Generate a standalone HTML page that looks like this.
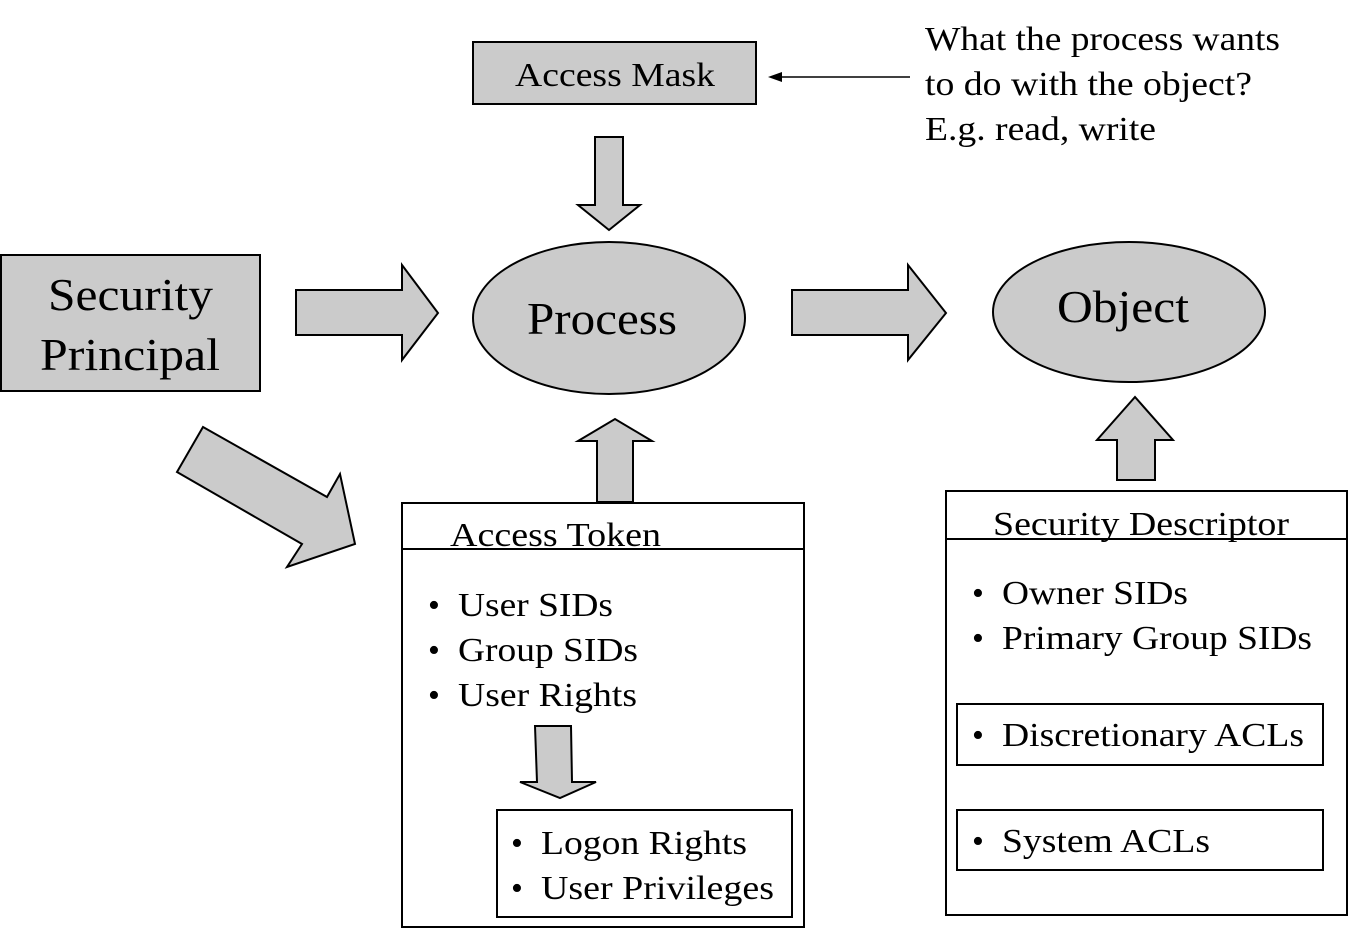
<!DOCTYPE html>
<html><head><meta charset="utf-8"><style>body{margin:0;background:#fff}svg{display:block}text{font-family:"Liberation Serif",serif;fill:#000}</style></head><body>
<svg width="1350" height="931" viewBox="0 0 1350 931" xmlns="http://www.w3.org/2000/svg">
<g stroke="#000" stroke-width="2" fill="#cbcbcb">
<rect x="1" y="255" width="259" height="136"/>
<rect x="473" y="42" width="283" height="62"/>
<ellipse cx="609" cy="318" rx="136" ry="76"/>
<ellipse cx="1129" cy="312" rx="136" ry="70"/>
<polygon points="203,427 327,497 340,474 355,544 287,567 302,544 177,472"/>
<polygon points="597,502 597,441 578,441 615,419 652,441 633,441 633,502"/>
<polygon points="595,137 623,137 623,205 640,205 609,230 578,205 595,205"/>
<polygon points="296,290 402,290 402,265 438,313 402,360 402,335 296,335"/>
<polygon points="792,290 908,290 908,265 946,313 908,360 908,335 792,335"/>
<polygon points="1117,480 1117,440 1097,440 1135,397 1173,440 1155,440 1155,480"/>
</g>
<g stroke="#000" stroke-width="2" fill="#fff">
<rect x="402" y="503" width="402" height="424"/>
<line x1="402" y1="549" x2="804" y2="549"/>
<rect x="497" y="810" width="295" height="107"/>
<rect x="946" y="491" width="401" height="424"/>
<line x1="946" y1="539" x2="1347" y2="539"/>
<rect x="957" y="704" width="366" height="61"/>
<rect x="957" y="810" width="366" height="60"/>
</g>
<polygon points="535,726 571,726 572,782 596,782 560,798 520,782 537,782" stroke="#000" stroke-width="2" fill="#cbcbcb"/>
<line x1="910" y1="77" x2="778" y2="77" stroke="#000" stroke-width="1.5"/>
<polygon points="768,77 782,72 782,82" fill="#000"/>
<g font-size="46" lengthAdjust="spacingAndGlyphs">
<text x="48" y="310" textLength="165" lengthAdjust="spacingAndGlyphs">Security</text>
<text x="40" y="370" textLength="180" lengthAdjust="spacingAndGlyphs">Principal</text>
<text x="527" y="334" textLength="150" lengthAdjust="spacingAndGlyphs">Process</text>
<text x="1057" y="322" textLength="132" lengthAdjust="spacingAndGlyphs">Object</text>
</g>
<g font-size="34">
<text x="515" y="86" textLength="200" lengthAdjust="spacingAndGlyphs">Access Mask</text>
<text x="925" y="50" textLength="355" lengthAdjust="spacingAndGlyphs">What the process wants</text>
<text x="925" y="95" textLength="327" lengthAdjust="spacingAndGlyphs">to do with the object?</text>
<text x="925" y="140" textLength="231" lengthAdjust="spacingAndGlyphs">E.g. read, write</text>
<text x="450" y="546" textLength="211" lengthAdjust="spacingAndGlyphs">Access Token</text>
<text x="993" y="535" textLength="296" lengthAdjust="spacingAndGlyphs">Security Descriptor</text>
<text x="428" y="616">•</text><text x="458" y="616" textLength="155" lengthAdjust="spacingAndGlyphs">User SIDs</text>
<text x="428" y="661">•</text><text x="458" y="661" textLength="180" lengthAdjust="spacingAndGlyphs">Group SIDs</text>
<text x="428" y="706">•</text><text x="458" y="706" textLength="179" lengthAdjust="spacingAndGlyphs">User Rights</text>
<text x="511" y="854">•</text><text x="541" y="854" textLength="206" lengthAdjust="spacingAndGlyphs">Logon Rights</text>
<text x="511" y="899">•</text><text x="541" y="899" textLength="233" lengthAdjust="spacingAndGlyphs">User Privileges</text>
<text x="972" y="604">•</text><text x="1002" y="604" textLength="186" lengthAdjust="spacingAndGlyphs">Owner SIDs</text>
<text x="972" y="649">•</text><text x="1002" y="649" textLength="310" lengthAdjust="spacingAndGlyphs">Primary Group SIDs</text>
<text x="972" y="746">•</text><text x="1002" y="746" textLength="302" lengthAdjust="spacingAndGlyphs">Discretionary ACLs</text>
<text x="972" y="852">•</text><text x="1002" y="852" textLength="208" lengthAdjust="spacingAndGlyphs">System ACLs</text>
</g>
</svg>
</body></html>
